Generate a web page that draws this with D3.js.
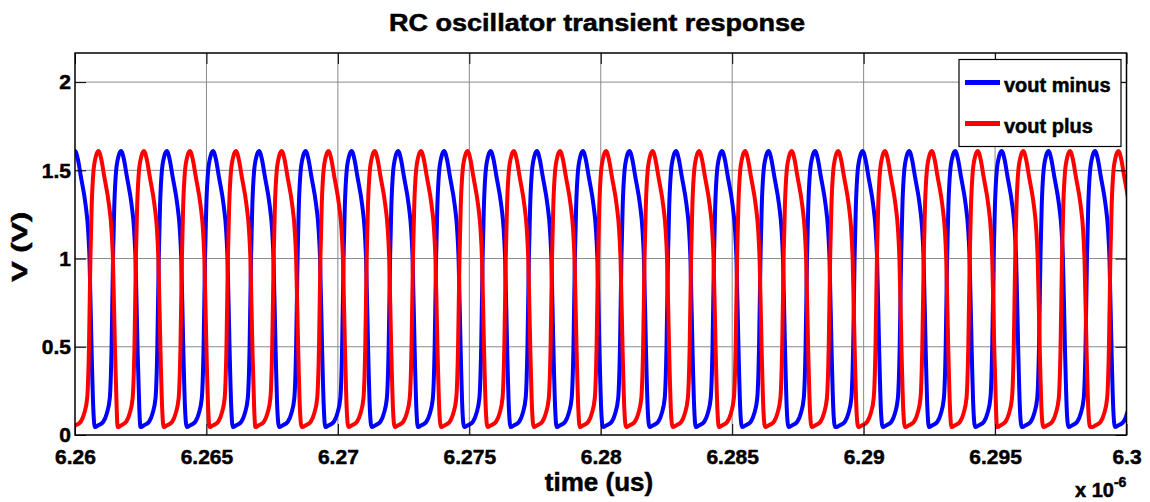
<!DOCTYPE html>
<html lang="en">
<head>
<meta charset="UTF-8">
<title>RC oscillator transient response</title>
<script src="https://cdnjs.cloudflare.com/ajax/libs/d3/7.9.0/d3.min.js"></script>
<style>
    body { margin: 0; background: #fff; }
    text { font-family: "Liberation Sans", Arial, sans-serif; font-weight: bold; fill: #000;
           stroke: #000; stroke-width: 0.5px; }
</style>
</head>
<body>
<div id="chart"></div>
<script>
// x ticks (time, in units of 1e-6 s) and y ticks (V)
const xTicks = [6.26, 6.265, 6.27, 6.275, 6.28, 6.285, 6.29, 6.295, 6.3];
const yTicks = [0, 0.5, 1, 1.5, 2];

// peak times (x 1e-6 s)
const minusPeaks = [6.26000, 6.26175, 6.26349, 6.26525, 6.26700, 6.26877, 6.27052, 6.27229,
    6.27404, 6.27581, 6.27757, 6.27932, 6.28109, 6.28286, 6.28461, 6.28638, 6.28815, 6.28996,
    6.29173, 6.29348, 6.29525, 6.29703, 6.29880, 6.30056];
const plusPeaks = [6.26089, 6.26262, 6.26437, 6.26612, 6.26786, 6.26964, 6.27140, 6.27316,
    6.27493, 6.27669, 6.27845, 6.28020, 6.28197, 6.28374, 6.28549, 6.28726, 6.28903, 6.29081,
    6.29259, 6.29434, 6.29607, 6.29785, 6.29969];

// one cycle around a peak: time offset from the peak and voltage
const cycleOffsets = [-0.001000, -0.000864, -0.000673, -0.000544, -0.000426, -0.000358, -0.000304,
    -0.000255, -0.000190, -0.000095, 0, 0.000114, 0.000217, 0.000407, 0.000495, 0.000552,
    0.000628, 0.000696, 0.000761];
const cycleVolts = [0.045, 0.055, 0.075, 0.12, 0.21, 0.5, 1.0, 1.3, 1.49, 1.58, 1.61, 1.56, 1.47,
    1.3, 1.17, 1.0, 0.5, 0.15, 0.045];

const seriesNames = ['vout minus', 'vout plus'];
const seriesColors = ['#0000ff', '#ff0000'];

const W = 1150, H = 502;
const margin = { top: 53, right: 23.5, bottom: 67, left: 75 };
const iw = W - margin.left - margin.right;
const ih = H - margin.top - margin.bottom;

const x = d3.scaleLinear().domain([6.26, 6.3]).range([0, iw]);
const y = d3.scaleLinear().domain([0, 2.165]).range([ih, 0]);

function trace(peaks) {
    const pts = [];
    peaks.forEach(p => cycleOffsets.forEach((o, i) => pts.push({ t: p + o, v: cycleVolts[i] })));
    pts.sort((a, b) => a.t - b.t);
    return pts.filter((d, i) => i === 0 || d.t - pts[i - 1].t > 0.00001);
}

const svg = d3.select('#chart').append('svg')
    .attr('width', W).attr('height', H);

svg.append('defs').append('clipPath').attr('id', 'clip')
    .append('rect').attr('width', iw).attr('height', ih);

const g = svg.append('g').attr('transform', `translate(${margin.left},${margin.top})`);

// grid
g.append('g').selectAll('line').data(xTicks.slice(1, -1)).enter().append('line')
    .attr('x1', d => x(d)).attr('x2', d => x(d)).attr('y1', 0).attr('y2', ih)
    .attr('stroke', '#8a8a8a').attr('stroke-width', 1);
g.append('g').selectAll('line').data(yTicks.slice(1)).enter().append('line')
    .attr('y1', d => y(d)).attr('y2', d => y(d)).attr('x1', 0).attr('x2', iw)
    .attr('stroke', '#8a8a8a').attr('stroke-width', 1);

// waveforms
const line = d3.line().x(d => x(d.t)).y(d => y(d.v)).curve(d3.curveMonotoneX);
const plot = g.append('g').attr('clip-path', 'url(#clip)');
[minusPeaks, plusPeaks].forEach((peaks, i) => {
    plot.append('path')
        .datum(trace(peaks))
        .attr('d', line)
        .attr('fill', 'none')
        .attr('stroke', seriesColors[i])
        .attr('stroke-width', 4)
        .attr('stroke-linejoin', 'round');
});

// axes, inward ticks on all four sides
const tickLen = 11;
const bottomAxis = g.append('g').attr('transform', `translate(0,${ih})`)
    .call(d3.axisBottom(x).tickValues(xTicks).tickSize(-tickLen).tickPadding(14).tickFormat(d3.format('')));
const leftAxis = g.append('g')
    .call(d3.axisLeft(y).tickValues(yTicks).tickSize(-tickLen).tickPadding(4).tickFormat(d3.format('')));
g.append('g').call(d3.axisTop(x).tickValues(xTicks).tickSize(-tickLen).tickFormat(''));
g.append('g').attr('transform', `translate(${iw},0)`)
    .call(d3.axisRight(y).tickValues(yTicks).tickSize(-tickLen).tickFormat(''));

g.selectAll('.domain').remove();
g.selectAll('.tick line').attr('stroke', '#000').attr('stroke-width', 1);
[bottomAxis, leftAxis].forEach(ax => ax.selectAll('text')
    .attr('font-size', 21).attr('fill', '#000')
    .attr('font-family', '"Liberation Sans", Arial, sans-serif').attr('font-weight', 'bold'));

g.append('rect').attr('width', iw).attr('height', ih)
    .attr('fill', 'none').attr('stroke', '#000').attr('stroke-width', 1.5);

// legend
const lg = svg.append('g').attr('transform', 'translate(959,59.5)');
lg.append('rect').attr('width', 162).attr('height', 87)
    .attr('fill', '#fff').attr('stroke', '#000').attr('stroke-width', 1.2);
seriesNames.forEach((name, i) => {
    const yy = 23 + i * 41;
    lg.append('line').attr('x1', 6).attr('x2', 41).attr('y1', yy).attr('y2', yy)
        .attr('stroke', seriesColors[i]).attr('stroke-width', 5);
    lg.append('text').attr('x', 45).attr('y', yy + 9.5).attr('font-size', 20).text(name);
});

// titles
svg.append('text').attr('x', 597).attr('y', 31).attr('text-anchor', 'middle')
    .attr('font-size', 23).attr('textLength', 416).attr('lengthAdjust', 'spacingAndGlyphs')
    .text('RC oscillator transient response');
svg.append('text').attr('x', 599).attr('y', 491).attr('text-anchor', 'middle')
    .attr('font-size', 26).text('time (us)');
svg.append('text').attr('transform', 'translate(26.5,246.7) rotate(-90)').attr('text-anchor', 'middle')
    .attr('font-size', 22).attr('textLength', 70).attr('lengthAdjust', 'spacingAndGlyphs')
    .text('V (V)');
const ex = svg.append('text').attr('x', 1075).attr('y', 496.5).attr('font-size', 20);
ex.append('tspan').text('x 10');
ex.append('tspan').attr('dy', -10).attr('font-size', 14).text('-6');
</script>
</body>
</html>
